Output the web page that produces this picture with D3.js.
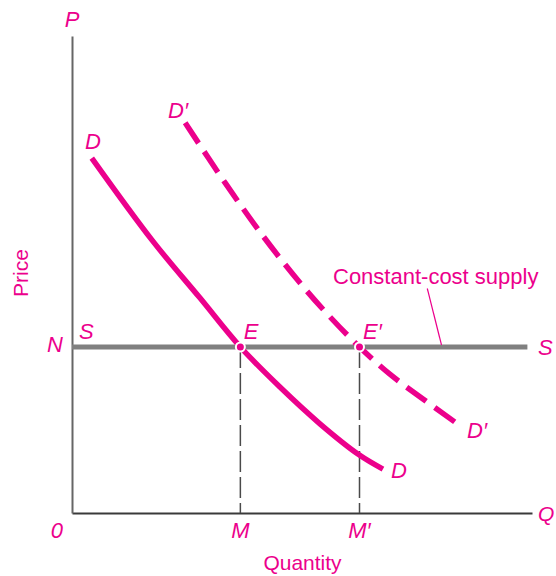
<!DOCTYPE html>
<html>
<head>
<meta charset="utf-8">
<script src="https://cdn.jsdelivr.net/npm/d3@7/dist/d3.min.js"></script>
<style>
  html, body { margin: 0; padding: 0; background: #fff; }
  svg { display: block; }
  text { font-family: "Liberation Sans", Arial, Helvetica, sans-serif; fill: #EC008C; }
  .it { font-style: italic; }
</style>
</head>
<body>
<svg id="chart" width="556" height="576"></svg>
<script>
// Original demand curve D (quantity, price)
const demandQ = [4.3, 17.4, 27.8, 36.6, 45.2, 53.9, 62.4, 67.6];
const demandP = [74.4, 57.2, 45.1, 34.8, 26.4, 18.7, 12.2, 9.2];

// Shifted demand curve D′
const shiftedQ = [24.6, 33.3, 41.5, 49.6, 56.1, 62.5, 69.1, 76.3, 83.2];
const shiftedP = [81.8, 69.2, 58.1, 48.2, 41.1, 34.8, 29.1, 23.9, 19.1];

// Constant-cost supply: flat at price N
const supplyPrice = 34.8;
const supplyQ = [0, 99];

// Equilibrium quantities M and M′
const eqNames = ["M", "M′"];
const eqQ = [36.6, 62.5];
const eqPoint = ["E", "E′"];

const axisNames = { price: "P", quantity: "Q", origin: "0", priceLevel: "N" };
const axisTitles = { x: "Quantity", y: "Price" };
const supplyNote = "Constant-cost supply";

const pink = "#EC008C";
const svg = d3.select("#chart");

const x = d3.scaleLinear().domain([0, 100]).range([72, 532]);
const y = d3.scaleLinear().domain([0, 100]).range([513, 36]);

// Axes: domain lines only
svg.append("g")
  .attr("transform", `translate(0,${y(0)})`)
  .call(d3.axisBottom(x).tickValues([]).tickSizeOuter(0))
  .call(g => g.select(".domain").attr("stroke", "#3a3a3a").attr("stroke-width", 2));
svg.append("g")
  .attr("transform", `translate(${x(0)},0)`)
  .call(d3.axisLeft(y).tickValues([]).tickSizeOuter(0))
  .call(g => g.select(".domain").attr("stroke", "#666").attr("stroke-width", 2));

// Drop lines from equilibria to the quantity axis
svg.selectAll("line.drop").data(eqQ).join("line")
  .attr("class", "drop")
  .attr("x1", d => x(d)).attr("x2", d => x(d))
  .attr("y1", y(supplyPrice)).attr("y2", y(0))
  .attr("stroke", "#4a4a4a").attr("stroke-width", 1.5)
  .attr("stroke-dasharray", "21,5");

// Supply line
svg.append("line")
  .attr("x1", x(supplyQ[0])).attr("x2", x(supplyQ[1]))
  .attr("y1", y(supplyPrice)).attr("y2", y(supplyPrice))
  .attr("stroke", "#808080").attr("stroke-width", 5);

const line = d3.line()
  .x(d => x(d[0])).y(d => y(d[1]))
  .curve(d3.curveCatmullRom.alpha(0.5));

svg.append("path")
  .datum(d3.zip(demandQ, demandP))
  .attr("d", line)
  .attr("fill", "none").attr("stroke", pink).attr("stroke-width", 5.5);

const shifted = svg.append("path")
  .datum(d3.zip(shiftedQ, shiftedP))
  .attr("d", line)
  .attr("fill", "none").attr("stroke", pink).attr("stroke-width", 5.5);

// Fit the dash pattern (about 24 on, 10 off) so the curve starts and ends with a dash
{
  const L = shifted.node().getTotalLength();
  const n = Math.max(1, Math.round((L + 10) / 34));
  const period = (L + 10) / n;
  const gap = period * 10 / 34;
  shifted.attr("stroke-dasharray", `${period - gap},${gap}`);
}

// Equilibrium points
svg.selectAll("circle.eq").data(eqQ).join("circle")
  .attr("class", "eq")
  .attr("cx", d => x(d)).attr("cy", y(supplyPrice))
  .attr("r", 4.5)
  .attr("fill", pink).attr("stroke", "#fff").attr("stroke-width", 2);

// Leader line for the supply annotation
svg.append("line")
  .attr("x1", 427.3).attr("y1", 288.5)
  .attr("x2", 441.5).attr("y2", y(supplyPrice) - 2)
  .attr("stroke", pink).attr("stroke-width", 1.2);

function label(t, px, py, anchor, italic, size) {
  svg.append("text")
    .attr("class", italic ? "it" : null)
    .attr("x", px).attr("y", py)
    .attr("text-anchor", anchor || "start")
    .attr("font-size", size || 22)
    .text(t);
}

label(axisNames.price, x(0), 27, "middle", true);
label(axisNames.quantity, 538, 521, "start", true, 21);
label(axisNames.origin, 63, 538, "end", true);
label(axisNames.priceLevel, 63, 352, "end", true);
label("S", 79, 339, "start", true);
label("S", 538, 355, "start", true);
eqQ.forEach((q, i) => {
  label(eqPoint[i], x(q) + 3.5, 339, "start", true);
  label(eqNames[i], x(q), 538, "middle", true);
});
label("D", 85, 149, "start", true);
label("D′", 168, 118, "start", true);
label("D", 391, 478, "start", true);
label("D′", 467, 438, "start", true);
label(axisTitles.x, 302.5, 569.5, "middle", false, 21);
svg.append("text")
  .attr("transform", "translate(28,273) rotate(-90)")
  .attr("text-anchor", "middle")
  .attr("font-size", 21)
  .text(axisTitles.y);
label(supplyNote, 333, 284, "start", false, 22);
</script>
</body>
</html>
